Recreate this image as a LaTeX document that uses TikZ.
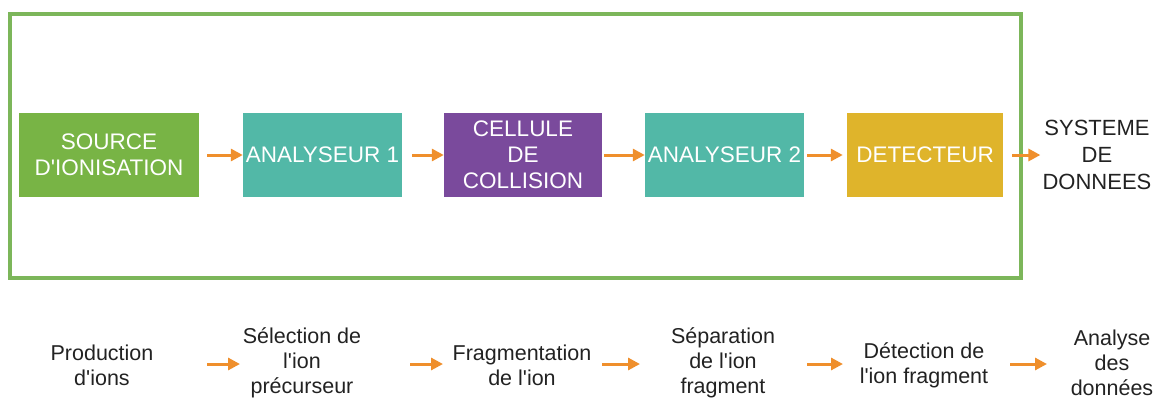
\documentclass[tikz,border=0pt]{standalone}
\usepackage{fontspec}
\setmainfont{Liberation Sans}
\usetikzlibrary{arrows.meta}
\definecolor{framegreen}{HTML}{7CB65A}
\definecolor{srcgreen}{HTML}{78B445}
\definecolor{anateal}{HTML}{52B8A7}
\definecolor{cellpurple}{HTML}{7A4A9C}
\definecolor{detgold}{HTML}{DFB42B}
\definecolor{flowor}{HTML}{EF8F2C}
\definecolor{txtdark}{HTML}{222222}
\newcommand{\apo}{\textquotesingle}
\tikzset{
  blockbox/.style={inner sep=0pt, minimum height=84pt, minimum width=159pt, align=center,
    text=white, font=\fontsize{22.5}{26}\selectfont},
  outtext/.style={inner sep=0pt, align=center, text=txtdark, font=\fontsize{22}{27}\selectfont},
  steptext/.style={inner sep=0pt, align=center, text=txtdark, font=\fontsize{21.5}{25}\selectfont},
  flow/.style={draw=flowor, line width=3pt, -{Triangle[length=12pt,width=12pt]}}
}
\begin{document}
\begin{tikzpicture}[x=1pt,y=-1pt]
    \useasboundingbox (0,0) rectangle (1160,400);
    \draw [framegreen, line width=4pt] (10,14) rectangle (1021,278);
    \node [blockbox, fill=srcgreen, minimum width=180pt] (src) at (109,155) {SOURCE\\D\apo IONISATION};
    \node [blockbox, fill=anateal] (ana1) at (322.5,155) {ANALYSEUR 1};
    \node [blockbox, fill=cellpurple, minimum width=158pt] (cell) at (523,155) {CELLULE\\DE\\COLLISION};
    \node [blockbox, fill=anateal] (ana2) at (724.5,155) {ANALYSEUR 2};
    \node [blockbox, fill=detgold, minimum width=156pt] (det) at (925,155) {DETECTEUR};
    \node [outtext] (sys) at (1097,155) {SYSTEME\\DE\\DONNEES};
    \draw [flow, shorten <=8pt] (src) -- (ana1);
    \draw [flow, shorten <=10pt] (ana1) -- (cell);
    \draw [flow, shorten <=2pt] (cell) -- (ana2);
    \draw [flow, shorten <=3pt, shorten >=4pt] (ana2) -- (det);
    \draw [flow, shorten <=9pt, shorten >=2pt] (det) -- (sys);
    \coordinate (rowmid) at (0,364);
    \node [steptext] (prod) at (102,365) {Production\\d\apo ions};
    \node [steptext] (sel) at (302,363) {Sélection de\\l\apo ion\\précurseur};
    \node [steptext] (frag) at (522,365) {Fragmentation\\de l\apo ion};
    \node [steptext] (sep) at (723,363) {Séparation\\de l\apo ion\\fragment};
    \node [steptext] (dtc) at (924,365) {Détection de\\l\apo ion fragment};
    \node [steptext] (ana) at (1112,363) {Analyse\\des\\données};
    \draw [flow] ([xshift=105pt]prod.center |- rowmid) -- ++(33pt,0);
    \draw [flow] ([xshift=108pt]sel.center |- rowmid) -- ++(33pt,0);
    \draw [flow] ([xshift=80pt]frag.center |- rowmid) -- ++(38pt,0);
    \draw [flow] ([xshift=84pt]sep.center |- rowmid) -- ++(36pt,0);
    \draw [flow] ([xshift=86pt]dtc.center |- rowmid) -- ++(37pt,0);
\end{tikzpicture}
\end{document}
